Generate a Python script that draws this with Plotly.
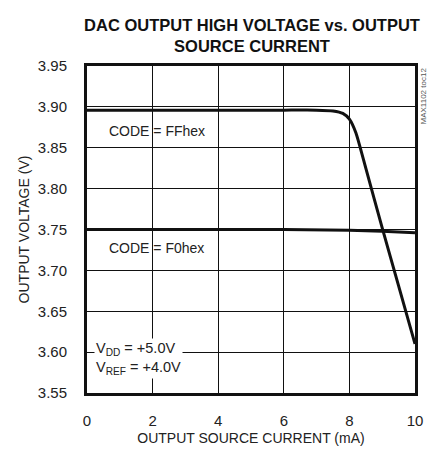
import plotly.graph_objects as go

# Data
current_ff = [0, 1, 2, 3, 4, 5, 6, 7, 7.5, 7.8, 8.0, 8.2, 8.5, 9.0, 9.5, 10]
voltage_ff = [3.896, 3.896, 3.896, 3.896, 3.896, 3.896, 3.896, 3.896, 3.895, 3.892, 3.885, 3.868, 3.825, 3.752, 3.681, 3.610]
current_f0 = [0, 2, 4, 6, 8, 9, 10]
voltage_f0 = [3.750, 3.750, 3.750, 3.750, 3.749, 3.748, 3.746]

x_ticks = [0, 2, 4, 6, 8, 10]
y_ticks = [3.55, 3.60, 3.65, 3.70, 3.75, 3.80, 3.85, 3.90, 3.95]
y_tick_labels = ["3.55", "3.60", "3.65", "3.70", "3.75", "3.80", "3.85", "3.90", "3.95"]

FONT = "Liberation Sans, Arial, sans-serif"

fig = go.Figure()
fig.add_trace(go.Scatter(x=current_ff, y=voltage_ff, mode="lines",
                         line=dict(color="#111", width=3, shape="spline", smoothing=0.5),
                         showlegend=False))
fig.add_trace(go.Scatter(x=current_f0, y=voltage_f0, mode="lines",
                         line=dict(color="#111", width=3),
                         showlegend=False))

fig.update_layout(
    width=437, height=457,
    margin=dict(l=87, r=22, t=66, b=62),
    paper_bgcolor="white", plot_bgcolor="white",
    font=dict(family=FONT, color="#222", size=14),
    title=dict(text="<b>DAC OUTPUT HIGH VOLTAGE vs. OUTPUT<br>SOURCE CURRENT</b>",
               x=252 / 437, xanchor="center", xref="container",
               y=1 - 31 / 457, yanchor="middle", yref="container",
               font=dict(family=FONT, size=16.5, color="#111")),
    xaxis=dict(range=[0, 10], tickvals=x_ticks, ticktext=[str(v) for v in x_ticks],
               showgrid=True, gridcolor="#111", gridwidth=1,
               showline=True, linecolor="#111", linewidth=3, mirror=True,
               ticks="outside", ticklen=12, tickcolor="white", zeroline=False,
               tickfont=dict(size=15),
               title=dict(text="OUTPUT SOURCE CURRENT (mA)", font=dict(size=14), standoff=6)),
    yaxis=dict(range=[3.55, 3.95], tickvals=y_ticks, ticktext=y_tick_labels,
               showgrid=True, gridcolor="#111", gridwidth=1,
               showline=True, linecolor="#111", linewidth=3, mirror=True,
               ticks="outside", ticklen=14, tickcolor="white", zeroline=False,
               tickfont=dict(size=15),
               title=dict(text="OUTPUT VOLTAGE (V)", font=dict(size=14), standoff=5)),
)

fig.add_annotation(x=0.6, y=3.871, xref="x", yref="y", text="CODE = FFhex",
                   showarrow=False, xanchor="left", yanchor="middle",
                   font=dict(size=14, color="#222"))
fig.add_annotation(x=0.6, y=3.727, xref="x", yref="y", text="CODE = F0hex",
                   showarrow=False, xanchor="left", yanchor="middle",
                   font=dict(size=14, color="#222"))
fig.add_annotation(x=0.2, y=3.592, xref="x", yref="y",
                   text="V<sub>DD</sub> = +5.0V<br>V<sub>REF</sub> = +4.0V",
                   showarrow=False, xanchor="left", yanchor="middle", align="left",
                   bgcolor="white", borderpad=1,
                   font=dict(size=14.5, color="#222"))
fig.add_annotation(x=1.0, y=1.0, xref="paper", yref="paper", text="MAX1102 toc12",
                   showarrow=False, textangle=-90, xanchor="center", yanchor="top",
                   xshift=8, font=dict(size=8, color="#555"))

fig.write_html("out.html", config={"displayModeBar": False},
               post_script="document.body.style.margin='0';")
